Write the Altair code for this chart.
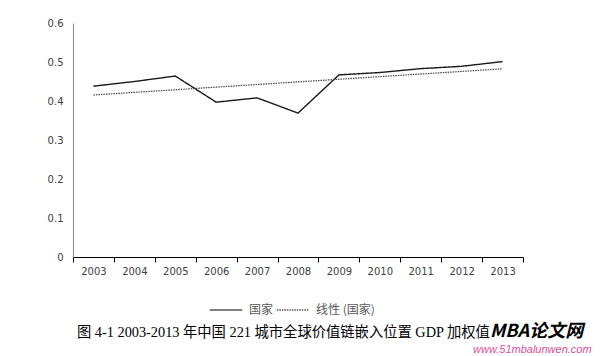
import altair as alt
import pandas as pd

years = [2003, 2004, 2005, 2006, 2007, 2008, 2009, 2010, 2011, 2012, 2013]
values = [0.438, 0.450, 0.464, 0.397, 0.408, 0.369, 0.467, 0.473, 0.483, 0.489, 0.501]
series_names = ["国家", "线性 (国家)"]
y_ticks = [0, 0.1, 0.2, 0.3, 0.4, 0.5, 0.6]
caption = "图 4-1 2003-2013 年中国 221 城市全球价值链嵌入位置 GDP 加权值"
watermark = "MBA论文网"
watermark_url = "www.51mbalunwen.com"

df = pd.DataFrame({"year": years, "value": values})

x_enc = alt.X("year:O", title=None,
              scale=alt.Scale(type="band", domain=years, paddingInner=0, paddingOuter=0),
              axis=alt.Axis(labelAngle=0, tickBand="extent", domainColor="#000000",
                            tickColor="#000000", tickSize=5, labelPadding=4,
                            labelFont="DejaVu Sans", labelFontSize=10, labelColor="#404040",
                            grid=False))
y_enc = alt.Y("value:Q", title=None,
              scale=alt.Scale(domain=[0, 0.6], nice=False, zero=True),
              axis=alt.Axis(values=y_ticks, tickSize=0, labelOverlap=False,
                            labelPadding=10, domainColor="#868686", grid=False,
                            labelFont="DejaVu Sans", labelFontSize=10, labelColor="#404040",
                            labelExpr="datum.value == 0 ? '0' : format(datum.value, '.1f')"))

dash_scale = alt.Scale(domain=series_names, range=[[1, 0], [1.5, 1]])
legend = alt.Legend(title=None, orient="none", legendX=136, legendY=270, direction="horizontal",
                    symbolType="stroke", symbolSize=1050, symbolStrokeColor="#000000",
                    symbolStrokeWidth=1.2, labelFont="Noto Sans CJK SC", labelFontSize=12,
                    labelColor="#595959", columnPadding=0, labelOffset=6)
dash_enc = alt.StrokeDash("series:N", scale=dash_scale, legend=legend)

base = alt.Chart(df)

main = base.transform_calculate(series=f"'{series_names[0]}'").mark_line(
    color="#1a1a1a", strokeWidth=1.4
).encode(x=x_enc, y=y_enc, strokeDash=dash_enc)

trend = base.transform_regression("year", "value", method="linear").transform_calculate(
    series=f"'{series_names[1]}'"
).mark_line(color="#444444", strokeWidth=1.2).encode(x=x_enc, y=y_enc, strokeDash=dash_enc)

cap = alt.Chart(pd.DataFrame({"t": [caption]})).mark_text(
    font="Liberation Serif, Noto Sans CJK SC", fontSize=14.3, color="#000000",
    align="left", baseline="middle"
).encode(x=alt.value(4), y=alt.value(310), text="t:N")

wm = alt.Chart(pd.DataFrame({"t": [watermark]})).mark_text(
    font="Noto Sans CJK SC", fontSize=18, fontWeight="bold", fontStyle="italic",
    color="#000000", align="left", baseline="middle"
).encode(x=alt.value(417), y=alt.value(309), text="t:N")

wm_url = alt.Chart(pd.DataFrame({"t": [watermark_url]})).mark_text(
    font="Liberation Sans", fontSize=11, fontStyle="italic",
    color="#d94f9a", align="left", baseline="middle"
).encode(x=alt.value(400), y=alt.value(327), text="t:N")

chart = alt.layer(main, trend, cap, wm, wm_url).properties(
    width=450, height=234, background="#ffffff",
    autosize=alt.AutoSizeParams(type="none"),
    padding={"left": 73, "top": 23, "right": 81, "bottom": 99},
).configure_view(stroke=None)

chart.save("out.html", embed_options={"renderer": "svg", "actions": False})
